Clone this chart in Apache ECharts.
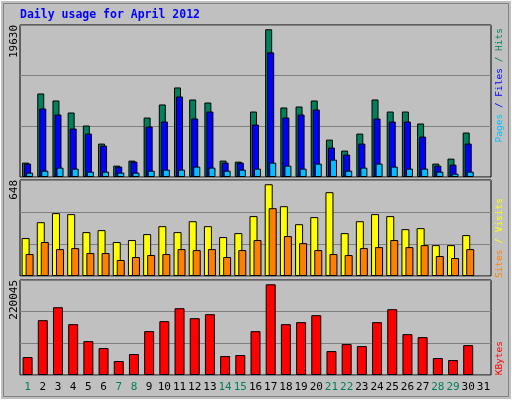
<!DOCTYPE html>
<html><head><meta charset="utf-8">
<script src="https://cdn.jsdelivr.net/npm/echarts@6/dist/echarts.min.js"></script>
<style>html,body{margin:0;padding:0;background:#C0C0C0}#c{width:512px;height:400px}</style>
</head><body><div id="c"></div>
<script>
const days = ['1','2','3','4','5','6','7','8','9','10','11','12','13','14','15','16','17','18','19','20','21','22','23','24','25','26','27','28','29','30','31'];
const weekend = ['1','7','8','14','15','21','22','28','29'];
const hits = [1910,11100,10170,8570,6840,4440,1510,2180,7900,9640,11900,10300,9900,2180,2040,8700,19630,9240,9370,10170,4970,3510,5770,10300,8700,8700,7110,1780,2440,5910,null];
const files = [1780,9100,8300,6440,5770,4170,1380,2040,6710,7370,10700,7770,8700,1910,1910,6970,16560,7900,8300,8970,3910,2980,4440,7770,7370,7370,5370,1510,1640,4440,null];
const pages = [580,840,1240,1110,710,710,580,580,840,980,980,1380,1240,840,980,1110,1910,1510,1110,1780,2310,840,1240,1780,1380,1110,1110,710,440,710,null];
const visits = [268,380,444,437,310,324,240,254,296,352,310,387,352,275,303,423,648,493,366,416,592,303,387,437,423,331,338,218,218,289,null];
const sites = [155,240,190,197,162,162,113,134,148,155,190,183,190,134,183,254,479,282,232,183,155,148,197,204,254,204,218,141,127,190,null];
const kbytes = [43500,133000,164400,123300,82200,65300,33900,50800,106400,130600,162000,137800,147500,45900,48400,106400,220045,123300,128200,145100,58000,75000,70100,128200,159600,99100,91900,41100,36300,72500,null];
const maxLabels = ['19630','648','220045'];

const chart = echarts.init(document.getElementById('c'), null, {renderer:'canvas'});
const font = 'DejaVu Sans Mono';
const panels = [{top:25,height:152,max:20200},{top:180,height:96,max:678},{top:280,height:95,max:230440}];
const grids = panels.map(p=>({left:20,right:21,top:p.top,height:p.height,show:true,borderColor:'#000',borderWidth:1,backgroundColor:'#C0C0C0'}));
const xAxes = panels.map((p,i)=>({type:'category',gridIndex:i,data:days,axisTick:{show:false},axisLine:{show:false},
  axisLabel:{show:i===2,interval:0,margin:7,fontFamily:font,fontSize:11,
    color:(v)=>weekend.includes(v)?'#00805C':'#000'}}));
const yAxes = panels.map((p,i)=>({type:'value',gridIndex:i,min:0,max:p.max,interval:p.max/3,
  axisLabel:{show:false},axisLine:{show:false},axisTick:{show:false},splitLine:{lineStyle:{color:'#808080',width:1}}}));
const bs = (name,data,color,g,w,gap)=>({name,type:'bar',data,xAxisIndex:g,yAxisIndex:g,barWidth:w,barGap:gap,
  itemStyle:{color,borderColor:'#000',borderWidth:1},animation:false});
const vtext = (x,y,rich,text,align)=>({type:'text',x,y,rotation:Math.PI/2,
  style:{text,rich,align,verticalAlign:'middle',fontFamily:font,fontSize:9.5}});
chart.setOption({
  animation:false,
  backgroundColor:'#C0C0C0',
  grid:grids, xAxis:xAxes, yAxis:yAxes,
  series:[
    bs('Hits',hits,'#00805C',0,7,'-71%'),
    bs('Files',files,'#0000FF',0,7,'-71%'),
    bs('Pages',pages,'#00C0FF',0,7,'-71%'),
    bs('Visits',visits,'#FFFF00',1,8,'-50%'),
    bs('Sites',sites,'#FF8000',1,8,'-50%'),
    bs('KBytes',kbytes,'#FF0000',2,10,'0%')
  ],
  graphic:[
    {type:'rect',shape:{x:0.5,y:0.5,width:511,height:399},style:{fill:'none',stroke:'#fff',lineWidth:1}},
    {type:'rect',shape:{x:3.5,y:3.5,width:505,height:393},style:{fill:'none',stroke:'#808080',lineWidth:1}},
    {type:'text',x:20,y:9,style:{text:'Daily usage for April 2012',fill:'#0000FF',fontFamily:font,fontSize:11.5,fontWeight:'bold'}},
    {type:'text',x:14,y:25,rotation:Math.PI/2,style:{text:maxLabels[0],align:'right',verticalAlign:'middle',fontFamily:font,fontSize:11,fill:'#000'}},
    {type:'text',x:14,y:180,rotation:Math.PI/2,style:{text:maxLabels[1],align:'right',verticalAlign:'middle',fontFamily:font,fontSize:11,fill:'#000'}},
    {type:'text',x:14,y:280,rotation:Math.PI/2,style:{text:maxLabels[2],align:'right',verticalAlign:'middle',fontFamily:font,fontSize:11,fill:'#000'}},
    vtext(500,28,{p:{fill:'#00C0FF'},f:{fill:'#0000FF'},h:{fill:'#00805C'}},'{p|Pages} {f|/} {f|Files} {h|/} {h|Hits}','right'),
    vtext(500,198,{s:{fill:'#FF8000'},v:{fill:'#FFFF00'}},'{s|Sites} {v|/} {v|Visits}','right'),
    vtext(500,341,{k:{fill:'#FF0000'}},'{k|KBytes}','right')
  ]
});
</script></body></html>
